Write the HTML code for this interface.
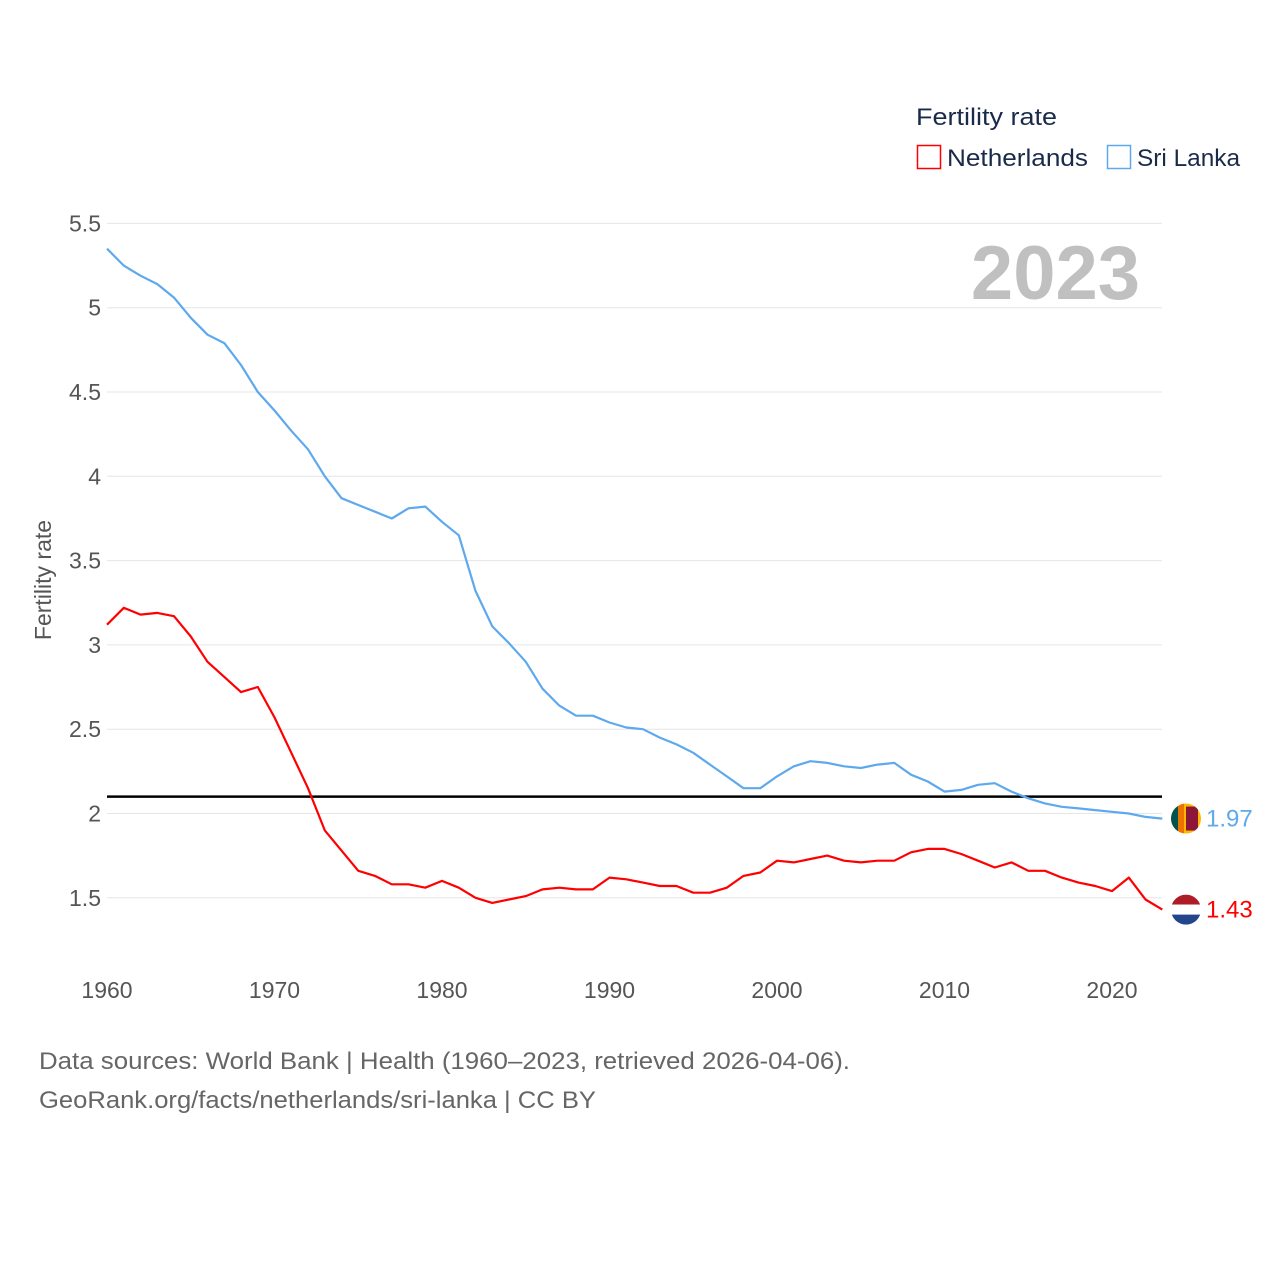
<!DOCTYPE html>
<html><head><meta charset="utf-8">
<style>
html,body{margin:0;padding:0;background:#fff;}
body{width:1280px;height:1280px;overflow:hidden;font-family:"Liberation Sans",sans-serif;}
svg text{font-family:"Liberation Sans",sans-serif;}
</style></head>
<body>
<svg id="chart" width="1280" height="1280" viewBox="0 0 1280 1280" xmlns="http://www.w3.org/2000/svg">
  <g id="grid"></g>
  <g id="yticks"></g>
  <g id="xticks"></g>
  <text x="51" y="580" transform="rotate(-90 51 580)" text-anchor="middle" font-size="23" fill="#555">Fertility rate</text>
  <text x="1140" y="299" text-anchor="end" font-size="76" font-weight="bold" fill="#c0c0c0">2023</text>
  <g>
    <text x="916" y="125" font-size="24" fill="#1a2b4a" textLength="141" lengthAdjust="spacingAndGlyphs">Fertility rate</text>
    <rect x="917.5" y="145.5" width="23" height="23" fill="none" stroke="#ff0000" stroke-width="1.5"/>
    <text x="947" y="166" font-size="24" fill="#1a2b4a" textLength="141" lengthAdjust="spacingAndGlyphs">Netherlands</text>
    <rect x="1107.5" y="145.5" width="23" height="23" fill="none" stroke="#5ea9ee" stroke-width="1.5"/>
    <text x="1137" y="166" font-size="24" fill="#1a2b4a" textLength="103" lengthAdjust="spacingAndGlyphs">Sri Lanka</text>
  </g>
  <g id="series"></g>
  <g id="ends"></g>
  <text x="39" y="1069" font-size="24" fill="#666" textLength="811" lengthAdjust="spacingAndGlyphs">Data sources: World Bank | Health (1960–2023, retrieved 2026-04-06).</text>
  <text x="39" y="1108" font-size="24" fill="#666" textLength="557" lengthAdjust="spacingAndGlyphs">GeoRank.org/facts/netherlands/sri-lanka | CC BY</text>
</svg>
<script>
const years = [];
for (let y = 1960; y <= 2023; y++) years.push(y);
const sriLanka = [5.35,5.25,5.19,5.14,5.06,4.94,4.84,4.79,4.66,4.50,4.39,4.27,4.16,4.00,3.87,3.83,3.79,3.75,3.81,3.82,3.73,3.65,3.32,3.11,3.01,2.90,2.74,2.64,2.58,2.58,2.54,2.51,2.50,2.45,2.41,2.36,2.29,2.22,2.15,2.15,2.22,2.28,2.31,2.30,2.28,2.27,2.29,2.30,2.23,2.19,2.13,2.14,2.17,2.18,2.13,2.09,2.06,2.04,2.03,2.02,2.01,2.00,1.98,1.97];
const netherlands = [3.12,3.22,3.18,3.19,3.17,3.05,2.90,2.81,2.72,2.75,2.57,2.36,2.15,1.90,1.78,1.66,1.63,1.58,1.58,1.56,1.60,1.56,1.50,1.47,1.49,1.51,1.55,1.56,1.55,1.55,1.62,1.61,1.59,1.57,1.57,1.53,1.53,1.56,1.63,1.65,1.72,1.71,1.73,1.75,1.72,1.71,1.72,1.72,1.77,1.79,1.79,1.76,1.72,1.68,1.71,1.66,1.66,1.62,1.59,1.57,1.54,1.62,1.49,1.43];
const yTicks = [1.5,2,2.5,3,3.5,4,4.5,5,5.5];
const yTickLabels = ["1.5","2","2.5","3","3.5","4","4.5","5","5.5"];
const xTicks = [1960,1970,1980,1990,2000,2010,2020];
const referenceLine = [2.1];

const NS = "http://www.w3.org/2000/svg";
const X = yr => 107 + (yr - 1960) * (1005 / 60);
const Y = v => 813.5 - (v - 2) * 168.6;
function mk(tag, attrs, parent, txt) {
  const e = document.createElementNS(NS, tag);
  for (const k in attrs) e.setAttribute(k, attrs[k]);
  if (txt !== undefined) e.textContent = txt;
  parent.appendChild(e);
  return e;
}
const grid = document.getElementById('grid');
const yt = document.getElementById('yticks');
yTicks.forEach((v, i) => {
  const l = mk('line', {x1: 107, x2: 1162, y1: Y(v), y2: Y(v), stroke: '#e6e6e6', 'stroke-width': 1}, grid);
  
  
  const t = mk('text', {x: 101, y: Y(v) + 8, 'text-anchor': 'end', 'font-size': 23, fill: '#555'}, yt, yTickLabels[i]);
  
  
});
const xt = document.getElementById('xticks');
xTicks.forEach(yr => {
  const t = mk('text', {x: X(yr), y: 998, 'text-anchor': 'middle', 'font-size': 23, fill: '#555'}, xt, String(yr));
  
  
});
const ser = document.getElementById('series');
const ref = mk('line', {x1: 107, x2: 1162, y1: Y(referenceLine[0]), y2: Y(referenceLine[0]), stroke: '#000', 'stroke-width': 2.5}, ser);


function line(vals, color, name) {
  const d = vals.map((v, i) => (i ? 'L' : 'M') + X(years[i]).toFixed(1) + ' ' + Y(v).toFixed(1)).join(' ');
  const p = mk('path', {d: d, fill: 'none', stroke: color, 'stroke-width': 2.2, 'stroke-linejoin': 'round'}, ser);
  
  
}
line(sriLanka, '#5ea9ee', 'line-sri-lanka');
line(netherlands, '#ff0000', 'line-netherlands');

const ends = document.getElementById('ends');
const ly = sriLanka[sriLanka.length - 1], ny = netherlands[netherlands.length - 1];
const cy1 = Y(ly);
const fs = mk('g', {}, ends);


const cp1 = mk('clipPath', {id: 'c1'}, fs);
mk('circle', {cx: 1186, cy: cy1, r: 15}, cp1);
const g1 = mk('g', {'clip-path': 'url(#c1)'}, fs);
mk('rect', {x: 1171, y: cy1 - 15, width: 30, height: 30, fill: '#ffb700'}, g1);
mk('rect', {x: 1171, y: cy1 - 15, width: 7, height: 30, fill: '#00534e'}, g1);
mk('rect', {x: 1178, y: cy1 - 15, width: 6, height: 30, fill: '#eb7400'}, g1);
mk('rect', {x: 1186, y: cy1 - 12, width: 12, height: 24, fill: '#8d153a'}, g1);
const t1 = mk('text', {x: 1206, y: cy1 + 8, 'font-size': 24, fill: '#5ea9ee'}, ends, ly.toFixed(2));


const cy2 = Y(ny);
const fn = mk('g', {}, ends);


const cp = mk('clipPath', {id: 'c2'}, fn);
mk('circle', {cx: 1186, cy: cy2, r: 15}, cp);
const g2 = mk('g', {'clip-path': 'url(#c2)'}, fn);
mk('rect', {x: 1171, y: cy2 - 15, width: 30, height: 10, fill: '#ae1c28'}, g2);
mk('rect', {x: 1171, y: cy2 - 5, width: 30, height: 10, fill: '#fff'}, g2);
mk('rect', {x: 1171, y: cy2 + 5, width: 30, height: 10, fill: '#21468b'}, g2);
const t2 = mk('text', {x: 1206, y: cy2 + 8, 'font-size': 24, fill: '#ff0000'}, ends, ny.toFixed(2));


</script>
</body></html>
